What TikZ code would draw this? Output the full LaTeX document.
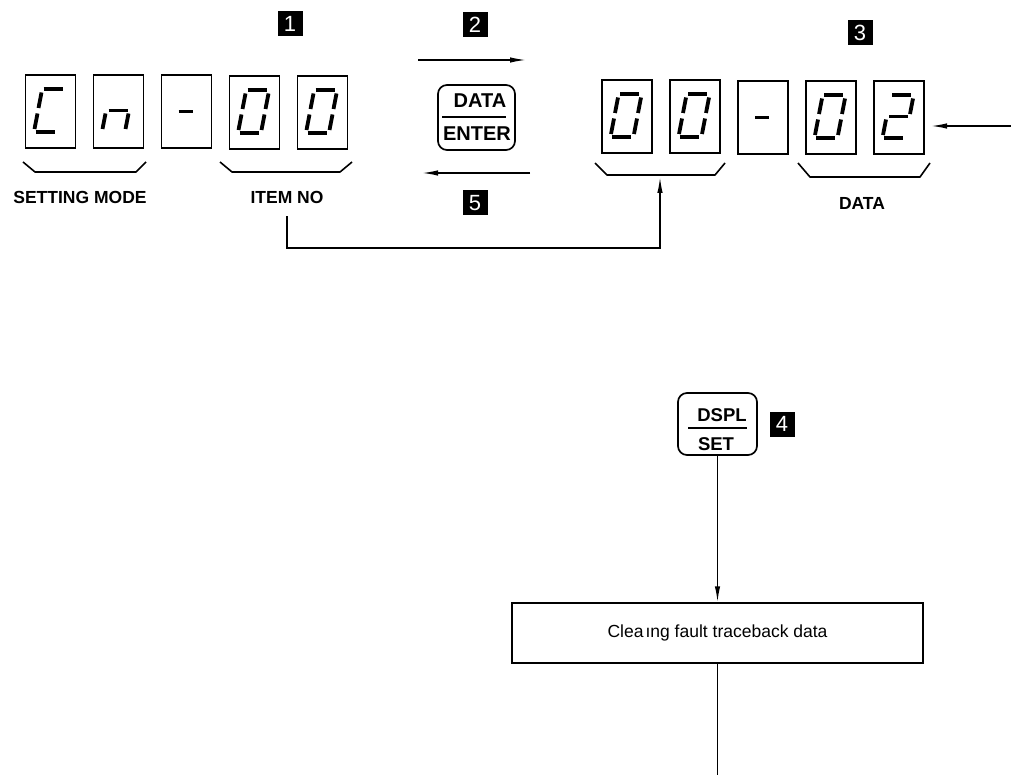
\documentclass[tikz,border=0pt]{standalone}
\usepackage{fontspec}
\setmainfont{Liberation Sans}
\usetikzlibrary{arrows.meta}
\newcommand{\sga}{\draw[seg] (18,14)--(37,14);}
\newcommand{\sgb}{\draw[seg] (39,17.5)--(36,33);}
\newcommand{\sgc}{\draw[seg] (35,38.5)--(32,54);}
\newcommand{\sgd}{\draw[seg] (10,57)--(29,57);}
\newcommand{\sge}{\draw[seg] (12,38.5)--(9,54);}
\newcommand{\sgf}{\draw[seg] (16,17.5)--(13,33);}
\newcommand{\sgg}{\draw[seg] (15,35.5)--(34,35.5);}
\newcommand{\sgh}{\draw[seg] (17,36.5)--(31,36.5);}
\newcommand{\dgt}[2]{\begin{scope}[shift={(#1.north west)}]\foreach \s in {#2}{\csname sg\s\endcsname}\end{scope}}
\begin{document}
\begin{tikzpicture}[x=1pt,y=-1pt,
 segbox/.style={draw, line width=1.5pt, minimum width=50pt, minimum height=73pt, inner sep=0pt, outer sep=0pt},
 seg/.style={line width=3.8pt},
 brace/.style={line width=1.6pt, line join=round},
 lbl/.style={font=\bfseries\fontsize{17.5}{17.5}\selectfont, inner sep=0pt},
 marker/.style={fill=black, text=white, minimum size=25pt, inner sep=0pt, font=\fontsize{22}{22}\selectfont},
 btn/.style={draw, line width=1.7pt, rounded corners=9pt, inner sep=0pt, outer sep=0pt},
 btntxt/.style={font=\bfseries\fontsize{18.5}{18.5}\selectfont, inner sep=0pt},
 bigbtntxt/.style={font=\bfseries\fontsize{20}{20}\selectfont, inner sep=0pt},
 arr/.style={line width=1.5pt, -{Latex[length=16pt,width=5.5pt]}},
 conn/.style={line width=1.5pt},
 stepbox/.style={draw, line width=1.5pt, minimum width=411pt, minimum height=60pt, inner sep=0pt, font=\fontsize{17.5}{17.5}\selectfont}
]
\useasboundingbox (0,0) rectangle (1011,775);
% left display
\node[segbox] (l1) at (50.5,111.5) {};
\node[segbox] (l2) at (118.5,111.5) {};
\node[segbox] (l3) at (186.5,111.5) {};
\node[segbox] (l4) at (254.5,112.5) {};
\node[segbox] (l5) at (322.5,112.5) {};
\dgt{l1}{a,f,e,d}
\dgt{l2}{g,e,c}
\dgt{l3}{h}
\dgt{l4}{a,b,c,d,e,f}
\dgt{l5}{a,b,c,d,e,f}
% right display
\node[segbox] (r1) at (627,116.5) {};
\node[segbox] (r2) at (695,116.5) {};
\node[segbox] (r3) at (763,117.5) {};
\node[segbox] (r4) at (831,117.5) {};
\node[segbox] (r5) at (899,117.5) {};
\dgt{r1}{a,b,c,d,e,f}
\dgt{r2}{a,b,c,d,e,f}
\dgt{r3}{h}
\dgt{r4}{a,b,c,d,e,f}
\dgt{r5}{a,b,g,e,d}
% braces
\draw[brace] (23,162)--(35,172)--(136,172)--(146,162);
\draw[brace] (220,162)--(232,172)--(340,172)--(352,162);
\draw[brace] (595,163)--(607,175)--(715,175)--(725,163);
\draw[brace] (798,163)--(810,177)--(920,177)--(930,163);
% labels
\node[lbl] (setmode) at (80,197) {SETTING MODE};
\node[lbl] (itemno) at (287,197) {ITEM NO};
\node[lbl] (datalbl) at (862,203) {DATA};
% markers
\node[marker] (m1) at (290,24) {1};
\node[marker] (m2) at (475,25) {2};
\node[marker] (m3) at (860,33) {3};
\node[marker] (m5) at (475,203) {5};
\node[marker] (m4) at (782,424) {4};
% DATA/ENTER button
\node[btn, minimum width=77pt, minimum height=65pt] (enter) at (476.5,117.5) {};
\draw[line width=1.4pt] (442,117) -- (506,117);
\node[bigbtntxt] (tdata) at (480,101) {DATA};
\node[bigbtntxt] (tenter) at (477,133.5) {ENTER};
% DSPL/SET button
\node[btn, minimum width=79pt, minimum height=62pt] (dspl) at (717.5,424) {};
\draw[line width=1.4pt] (688,428) -- (747,428);
\node[btntxt] (tdspl) at (722,415) {DSPL};
\node[btntxt] (tset) at (716,444) {SET};
% arrows 2 and 5
\coordinate (a2s) at (418,60);
\coordinate (a2e) at (526,60);
\coordinate (a5s) at (530,173);
\coordinate (a5e) at (422,173);
\draw[arr] (a2s) -- (a2e);
\draw[arr] (a5s) -- (a5e);
% arrow from right into data
\coordinate (rin) at (1011,126);
\coordinate (rtip) at (931,126);
\draw[arr] (rin) -- (rtip);
% item no connector
\coordinate (turn) at (660,248);
\coordinate (rbrace) at (660,177);
\draw[arr] ([yshift=-13pt]itemno.south) |- (turn) -- (rbrace);
% clearing box
\node[stepbox] (clear) at (717.5,633) {Clea\hspace{2pt}ıng fault traceback data};
\draw[arr] (dspl.south) -- (clear.north);
\coordinate (bend) at (717.5,775);
\draw[conn] (clear.south) -- (bend);
\end{tikzpicture}
\end{document}
